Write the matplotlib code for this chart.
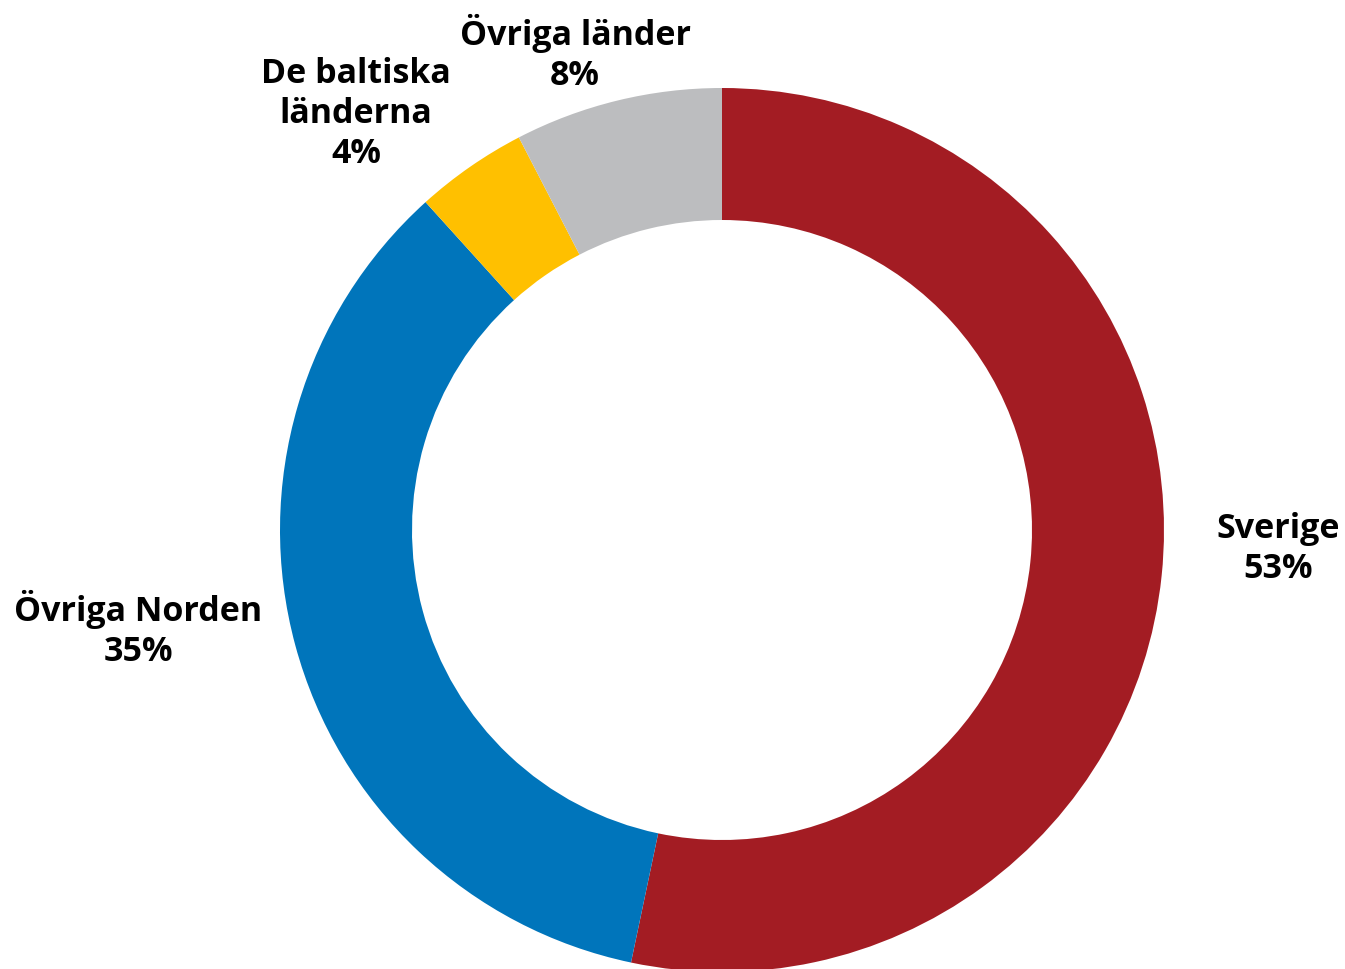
import matplotlib
matplotlib.use('Agg')
import matplotlib.pyplot as plt

# Andelar per region
regioner = ['Sverige', 'Övriga Norden', 'De baltiska\nländerna', 'Övriga länder']
andelar = [53.3, 35.0, 4.1, 7.6]
etiketter = ['53%', '35%', '4%', '8%']
farger = ['#A31C23', '#0075BB', '#FFC000', '#BCBDBF']

# Etikettpositioner i pixlar (y uppåt)
etikett_pos = [(1278, 421), (138, 341), (356, 856), (575, 917)]

fig = plt.figure(figsize=(13.45, 9.70), dpi=100)
ax = fig.add_axes([0, 0, 1, 1])

ax.pie(andelar, colors=farger, startangle=90, counterclock=False,
       center=(722, 439), radius=442,
       wedgeprops=dict(width=132, edgecolor='none'))

for namn, pct, (x, y) in zip(regioner, etiketter, etikett_pos):
    ax.text(x, y, namn + '\n' + pct, ha='center', va='center',
            fontsize=24.5, fontweight='bold', family='Open Sans',
            linespacing=1.23)

ax.set_xlim(0, 1345)
ax.set_ylim(0, 970)
ax.set_aspect('equal')
ax.axis('off')

fig.savefig('out.png', dpi=100)
